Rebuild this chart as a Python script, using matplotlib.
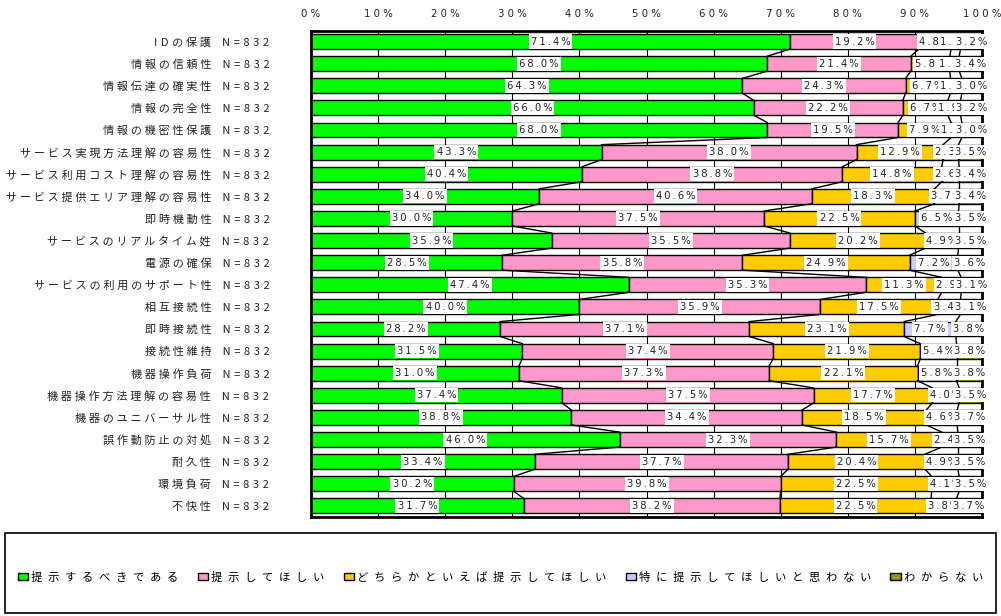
import numpy as np
import matplotlib
matplotlib.use("Agg")
import matplotlib.pyplot as plt
from matplotlib.patches import Rectangle
from matplotlib.font_manager import FontProperties

# ====================== データ ======================
items = [
    "IDの保護", "情報の信頼性", "情報伝達の確実性", "情報の完全性", "情報の機密性保護",
    "サービス実現方法理解の容易性", "サービス利用コスト理解の容易性", "サービス提供エリア理解の容易性",
    "即時機動性", "サービスのリアルタイム姓", "電源の確保", "サービスの利用のサポート性",
    "相互接続性", "即時接続性", "接続性維持", "機器操作負荷", "機器操作方法理解の容易性",
    "機器のユニバーサル性", "誤作動防止の対処", "耐久性", "環境負荷", "不快性",
]
n_resp = 832

series_names = ["提示するべきである", "提示してほしい", "どちらかといえば提示してほしい",
                "特に提示してほしいと思わない", "わからない"]

must_show = [71.4, 68.0, 64.3, 66.0, 68.0, 43.3, 40.4, 34.0, 30.0, 35.9, 28.5,
             47.4, 40.0, 28.2, 31.5, 31.0, 37.4, 38.8, 46.0, 33.4, 30.2, 31.7]
want_show = [19.2, 21.4, 24.3, 22.2, 19.5, 38.0, 38.8, 40.6, 37.5, 35.5, 35.8,
             35.3, 35.9, 37.1, 37.4, 37.3, 37.5, 34.4, 32.3, 37.7, 39.8, 38.2]
rather_show = [4.8, 5.8, 6.7, 6.7, 7.9, 12.9, 14.8, 18.3, 22.5, 20.2, 24.9,
               11.3, 17.5, 23.1, 21.9, 22.1, 17.7, 18.5, 15.7, 20.4, 22.5, 22.5]
no_need = [1.4, 1.4, 1.7, 1.9, 1.6, 2.3, 2.6, 3.7, 6.5, 4.9, 7.2,
           2.9, 3.4, 7.7, 5.4, 5.8, 4.0, 4.6, 2.4, 4.9, 4.1, 3.8]
unknown = [3.2, 3.4, 3.0, 3.2, 3.0, 3.5, 3.4, 3.4, 3.5, 3.5, 3.6,
           3.1, 3.1, 3.8, 3.8, 3.8, 3.5, 3.7, 3.5, 3.5, 3.5, 3.7]

colors = ["#00FF00", "#FF99CC", "#FFCC00", "#CCCCFF", "#999900"]

CJK = ["Noto Sans CJK JP", "DejaVu Sans"]


def spread(text, wide="\u2005", narrow="\u2004"):
    # 文字間を空ける
    out = []
    for ch in text:
        out.append(ch)
        out.append(wide if ord(ch) > 0x2000 else narrow)
    return "".join(out[:-1])


def num_label(v):
    return "\u2009".join(f"{v:.1f}%")


# ====================== 描画 ======================
fig = plt.figure(figsize=(10.01, 6.16), dpi=100)
ax = fig.add_axes([311 / 1001, 1 - 517 / 616, 671 / 1001, 486.5 / 616])

data = np.array([must_show, want_show, rather_show, no_need, unknown])
y = np.arange(len(items))
h = 0.675
left = np.zeros(len(items))
handles = []
for vals, col, name in zip(data, colors, series_names):
    bars = ax.barh(y, vals, left=left, height=h, color=col, edgecolor="black",
                   linewidth=1.0, label=name, zorder=2)
    handles.append(bars)
    for yi, l, v in zip(y, left, vals):
        ax.text(l + v / 2, yi, num_label(v), ha="center", va="center",
                fontsize=7.2, family="DejaVu Sans", color="#222222", zorder=5,
                bbox=dict(facecolor="white", edgecolor="none", pad=1.5))
    left = left + vals

# 区分線（隣り合う棒の境界を結ぶ）
cum = np.cumsum(data, axis=0)
for k in range(4):
    for i in range(len(items) - 1):
        ax.plot([cum[k, i], cum[k, i + 1]], [i + h / 2, i + 1 - h / 2],
                color="black", lw=1.0, zorder=3)

ax.set_xlim(0, 100)
ax.set_ylim(len(items) - 0.5, -0.5)
ax.xaxis.tick_top()
ax.set_xticks(np.arange(0, 101, 10))
ax.set_xticklabels([" ".join(f"{t}%") for t in range(0, 101, 10)],
                   fontsize=7.3, color="#222222", family="DejaVu Sans")
ax.tick_params(axis="x", length=0, pad=8)
ax.grid(axis="x", color="black", lw=0.8, zorder=0)
ax.set_axisbelow(True)

ax.set_yticks(y)
ax.set_yticklabels([spread(s) + "\u2002\u2002" + spread(f"N={n_resp}") for s in items],
                   fontproperties=FontProperties(family=CJK, size=8), color="#222222")
ax.tick_params(axis="y", length=0, pad=30)

for sp in ax.spines.values():
    sp.set_linewidth(2.0)
    sp.set_color("black")

# 凡例
fig.add_artist(Rectangle((5 / 1001, 1 - 613 / 616), 991 / 1001, 80 / 616,
                         transform=fig.transFigure, fill=False,
                         edgecolor="black", lw=1.2))
fig.legend(handles, [spread(s, wide="\u2002") for s in series_names], loc="center",
           bbox_to_anchor=(0.5, 1 - 577 / 616), ncol=5, frameon=False,
           handlelength=0.9, handleheight=0.5, handletextpad=0.25,
           columnspacing=1.7, prop=FontProperties(family=CJK, size=8.2))

fig.savefig("out.png", dpi=100)
